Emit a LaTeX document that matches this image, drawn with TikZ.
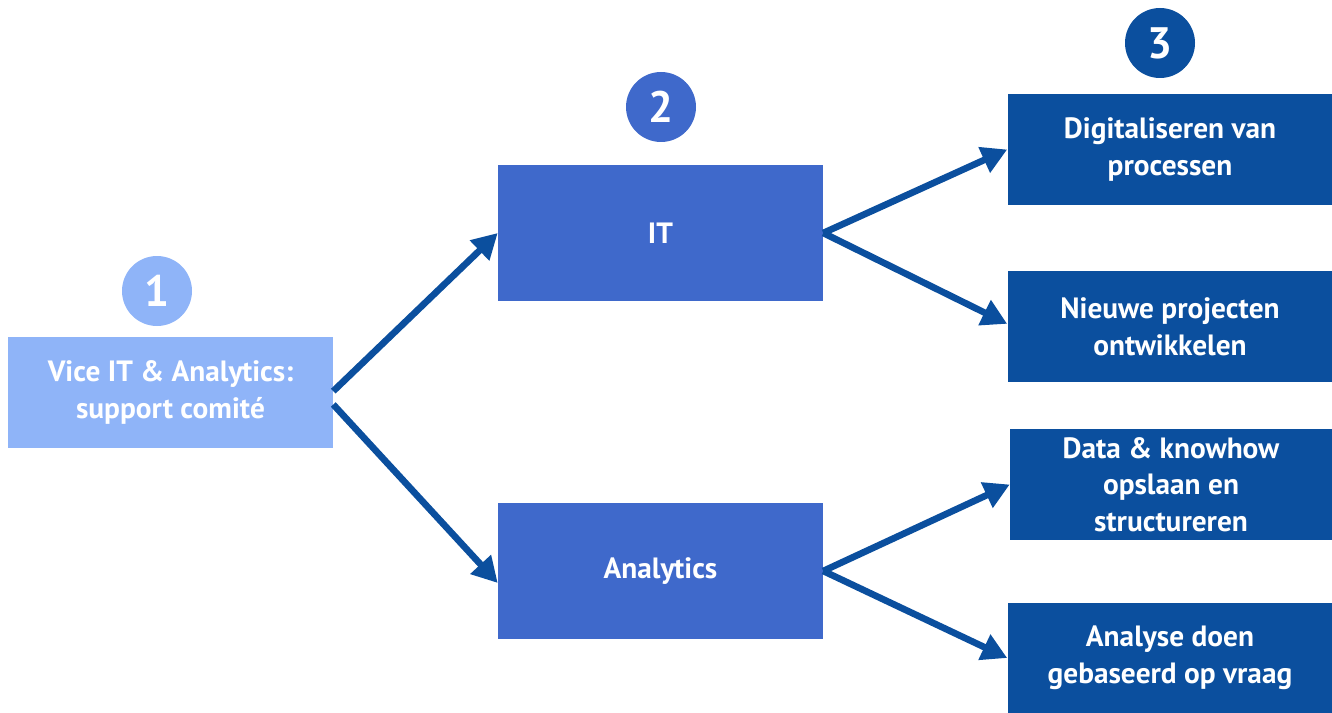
\documentclass[tikz,border=0pt]{standalone}
\usepackage{fontspec}
\setmainfont{PT Sans}
\usetikzlibrary{arrows.meta}

\definecolor{lichtblauw}{HTML}{8FB4F8}
\definecolor{middenblauw}{HTML}{3F69CB}
\definecolor{donkerblauw}{HTML}{0B4F9E}

\tikzset{
    blok/.style={fill=#1, text=white, font=\bfseries\fontsize{22}{27.5}\selectfont,
        align=center, inner sep=0pt, minimum width=325*0.75pt},
    stap/.style={circle, fill=#1, text=white, inner sep=0pt, minimum size=70*0.75pt,
        font=\bfseries\fontsize{33}{33}\selectfont},
    pijl/.style={donkerblauw, line width=5pt, -{Triangle[length=19pt,width=20pt]}}
}

\begin{document}
\begin{tikzpicture}[x=0.75pt, y=-0.75pt]
    \useasboundingbox (0,0) rectangle (1332,713);

    % Stap 1
    \node[blok=lichtblauw, minimum height=111*0.75pt] (vice) at (170.5,392.5) {Vice IT \& Analytics:\\support comité};
    \node[stap=lichtblauw] (een) at (157,291) {1};

    % Stap 2
    \node[blok=middenblauw, minimum height=136*0.75pt] (it) at (660.5,233) {IT};
    \node[blok=middenblauw, minimum height=136*0.75pt] (analytics) at (660.5,571) {Analytics};
    \node[stap=middenblauw] (twee) at (661,107) {2};

    % Stap 3
    \node[blok=donkerblauw, minimum height=111*0.75pt] (digi) at (1170,149.5) {Digitaliseren van\\processen};
    \node[blok=donkerblauw, minimum height=111*0.75pt] (nieuw) at (1170,326.5) {Nieuwe projecten\\ontwikkelen};
    \node[blok=donkerblauw, minimum height=111*0.75pt, minimum width=322*0.75pt] (data) at (1171,484.5) {Data \& knowhow\\opslaan en\\structureren};
    \node[blok=donkerblauw, minimum height=110*0.75pt] (analyse) at (1170,658) {Analyse doen\\gebaseerd op vraag};
    \node[stap=donkerblauw] (drie) at (1160,43) {3};

    % Pijlen
    \draw[pijl] ([yshift=1pt]vice.east) -- (it.west);
    \draw[pijl] ([yshift=-9pt]vice.east) -- ([yshift=-9pt]analytics.west);
    \draw[pijl] (it.east) -- (digi.west);
    \draw[pijl] (it.east) -- ([yshift=2pt]nieuw.west);
    \draw[pijl] (analytics.east) -- (data.west);
    \draw[pijl] (analytics.east) -- (analyse.west);
\end{tikzpicture}
\end{document}
